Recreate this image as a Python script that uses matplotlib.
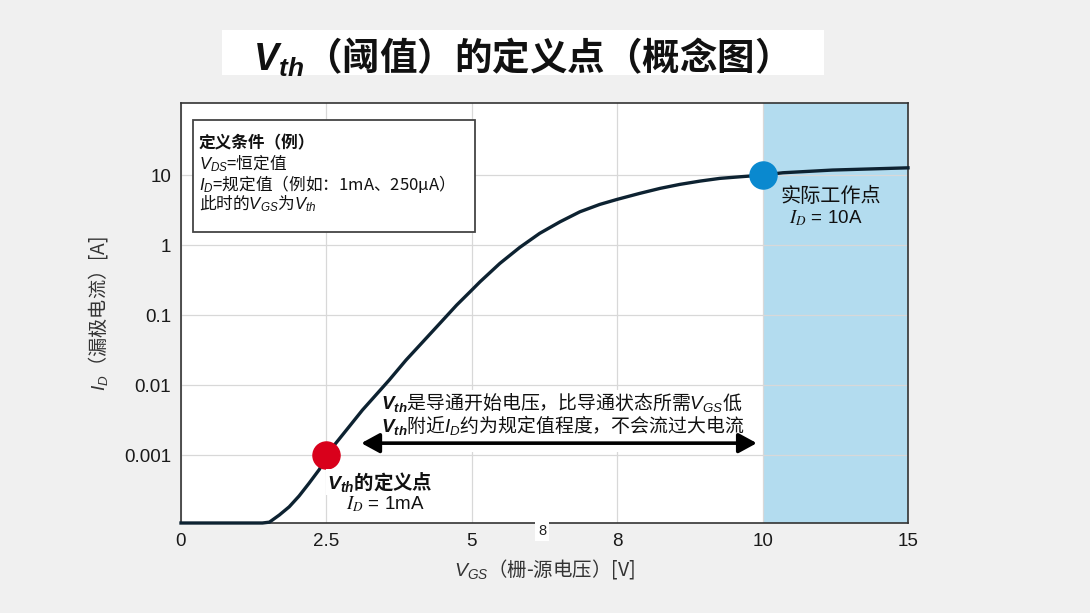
import numpy as np
import matplotlib
matplotlib.use('Agg')
import matplotlib.pyplot as plt
from matplotlib.patches import Rectangle

# 数据
vgs = [0, 1.40, 1.52, 1.69, 1.86, 2.03, 2.20, 2.38, 2.5, 2.66, 2.89, 3.12,
       3.35, 3.58, 3.87, 4.16, 4.45, 4.74, 4.97, 5.17, 5.58, 5.99, 6.40,
       6.82, 7.23, 7.64, 8.0, 8.31, 8.59, 8.86, 9.14, 9.41, 9.69, 10.0,
       10.7, 12.4, 15.0]
i_d = [1.07e-4, 1.07e-4, 1.1e-4, 1.39e-4, 1.82e-4, 2.6e-4, 3.94e-4, 6.25e-4,
       1e-3, 1.47e-3, 2.54e-3, 4.4e-3, 7.2e-3, 0.0118, 0.0228, 0.0416,
       0.076, 0.139, 0.215, 0.299, 0.548, 0.927, 1.47, 2.15, 2.99, 3.81,
       4.5, 5.48, 6.46, 7.36, 8.21, 8.97, 9.46, 10.0, 10.8, 11.8, 12.7]
x_ticks = [0, 2.5, 5, 8, 10, 15]
x_ticklabels = ['0', '2.5', '5', '8', '10', '15']
y_ticks = [0.001, 0.01, 0.1, 1, 10]
y_ticklabels = ['0.001', '0.01', '0.1', '1', '10']
vth_point = (2.5, 1e-3)
work_point = (10, 10)
work_region = (10, 15)
arrow_span = (3.1, 9.92)
arrow_y = 1.48e-3

plt.rcParams['font.family'] = ['Liberation Sans', 'Noto Sans CJK SC', 'DejaVu Sans']
plt.rcParams['mathtext.fontset'] = 'custom'
plt.rcParams['mathtext.rm'] = 'Liberation Sans'
plt.rcParams['mathtext.it'] = 'Liberation Sans:italic'
plt.rcParams['mathtext.bf'] = 'Liberation Sans:bold'
plt.rcParams['mathtext.bfit'] = 'Liberation Sans:italic:bold'
CJK = 'Noto Sans CJK SC'

W, H = 1090, 613
fig = plt.figure(figsize=(W / 100, H / 100), dpi=100, facecolor='#f0f0f0')

def fx(px):
    return px / W

def fy(py):
    return 1 - py / H

# 标题
fig.patches.append(Rectangle((fx(222), fy(75)), (824 - 222) / W, 45 / H,
                             transform=fig.transFigure, facecolor='white',
                             edgecolor='none', zorder=0))
fig.text(fx(511), fy(57), r'$\mathbfit{V}_{\mathbfit{th}}$（阈值）的定义点（概念图）',
         fontsize=27, fontweight='bold', family=CJK, ha='center', va='center',
         color='#111111')

ax = fig.add_axes([fx(181), fy(523), (908 - 181) / W, (523 - 103) / H])
ax.set_facecolor('white')

pos = np.arange(len(x_ticks))
ax.set_xscale('function', functions=(lambda v: np.interp(v, x_ticks, pos),
                                     lambda p: np.interp(p, pos, x_ticks)))
ax.set_yscale('log')
ax.set_xlim(0, 15)
ax.set_ylim(1.07e-4, 10 ** 2.03)

ax.axvspan(*work_region, color='#b3dcef', zorder=0, lw=0)
ax.set_axisbelow(True)
ax.grid(True, color='#d8d8d8', lw=0.9)
ax.minorticks_off()

ax.plot(vgs, i_d, color='#0d2231', lw=2.4, clip_on=False, zorder=3,
        solid_joinstyle='round')
ax.plot(*vth_point, 'o', ms=19.5, color='#d9001b', zorder=4)
ax.plot(*work_point, 'o', ms=19.5, color='#0a89cf', zorder=4)

ax.set_xticks(x_ticks)
ax.set_xticklabels(x_ticklabels)
ax.set_yticks(y_ticks)
ax.set_yticklabels(y_ticklabels)
ax.tick_params(length=0, labelsize=13.5, colors='#1a1a1a', pad=7)
for s in ax.spines.values():
    s.set_color('#333333')
    s.set_linewidth(1.2)

ax.set_xlabel(r'$V_{GS}$（栅-源电压）[V]', fontsize=14, family=CJK,
              color='#333333', labelpad=5)
ax.set_ylabel(r'$I_D$（漏极电流）[A]', fontsize=13.8, family=CJK,
              color='#333333', labelpad=10)

# 定义条件框
ax.add_patch(Rectangle((12 / 727, (523 - 232) / 420), 282 / 727, 112 / 420,
                       transform=ax.transAxes, facecolor='white',
                       edgecolor='#444444', lw=1.3, zorder=5))
box_lines = [('定义条件（例）', 'bold', 143),
             (r'$V_{DS}$=恒定值', 'normal', 163),
             (r'$I_D$=规定值（例如：1mA、250μA）', 'normal', 184),
             (r'此时的$V_{GS}$为$V_{th}$', 'normal', 204)]
for txt, wt, py in box_lines:
    ax.text(18 / 727, (523 - py) / 420, txt, transform=ax.transAxes,
            fontsize=12, fontweight=wt, family=CJK, va='center', ha='left',
            color='#111111', zorder=6)

# 注释
ax.text(fx(831), fy(196), '实际工作点', transform=fig.transFigure,
        fontsize=14.5, family=CJK, ha='center', va='center', color='#111111')
ax.text(fx(826), fy(218), r'$I_D$ = 10A', transform=fig.transFigure,
        fontsize=13.5, ha='center', va='center', color='#111111',
        math_fontfamily='stix')
ax.text(fx(380), fy(482), r'$\mathbfit{V}_{\mathbfit{th}}$的定义点',
        transform=fig.transFigure, fontsize=14, fontweight='bold', family=CJK,
        ha='center', va='center', color='#111111',
        bbox=dict(facecolor='white', edgecolor='none', pad=1), zorder=5)
ax.text(fx(385), fy(504), r'$I_D$ = 1mA', transform=fig.transFigure,
        fontsize=13.5, ha='center', va='center', color='#111111',
        math_fontfamily='stix')

ax.add_patch(Rectangle((fx(372), fy(452)), 385 / W, 62 / H,
                       transform=fig.transFigure, facecolor='white',
                       edgecolor='none', zorder=2))
ax.text(fx(381), fy(403), r'$\mathbfit{V}_{\mathbfit{th}}$是导通开始电压，比导通状态所需$V_{GS}$低',
        transform=fig.transFigure, fontsize=13.6, family=CJK, ha='left',
        va='center', color='#111111', zorder=5)
ax.text(fx(381), fy(425), r'$\mathbfit{V}_{\mathbfit{th}}$附近$I_D$约为规定值程度，不会流过大电流',
        transform=fig.transFigure, fontsize=13.6, family=CJK, ha='left',
        va='center', color='#111111', zorder=5)
ax.annotate('', xy=(arrow_span[1], arrow_y), xytext=(arrow_span[0], arrow_y),
            arrowprops=dict(arrowstyle='<|-|>,head_length=1.1,head_width=0.6',
                            lw=2.6, color='black', shrinkA=0, shrinkB=0),
            zorder=5)

fig.text(fx(542), fy(531), '8', fontsize=10.5, ha='center', va='center',
         color='#222222', bbox=dict(facecolor='white', edgecolor='none', pad=2))

fig.savefig('out.png', dpi=100, facecolor=fig.get_facecolor())
